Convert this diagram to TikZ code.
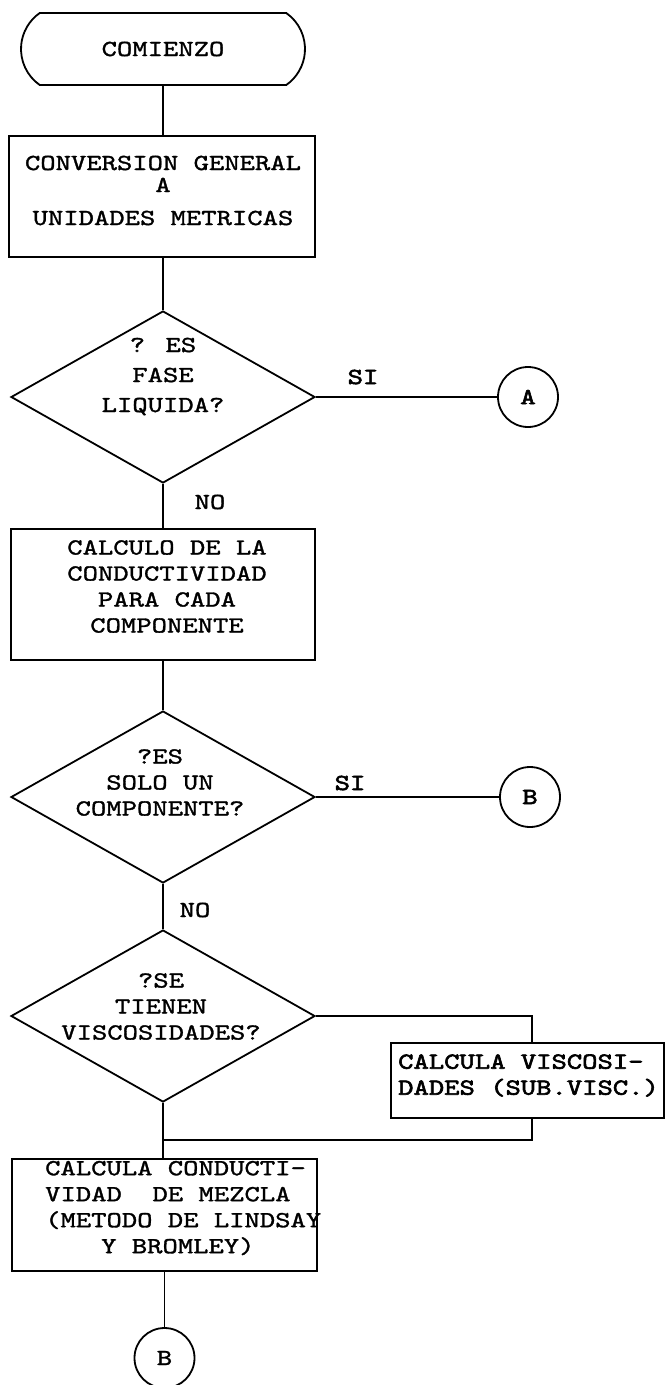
\documentclass[tikz,border=0pt]{standalone}
\usepackage{fontspec}
\newfontfamily\tw[FakeStretch=1.27,FakeBold=1.4]{lmmono10-regular.otf}
\newfontfamily\twb[FakeStretch=1.27,FakeBold=2.6]{lmmono10-regular.otf}
\usetikzlibrary{shapes.geometric,shapes.misc}
\begin{document}
\begin{tikzpicture}[x=1pt,y=-1pt,
  shp/.style={draw, line width=1.8pt, inner sep=0pt, font=\tw\fontsize{23}{26}\selectfont},
  term/.style={shp, rounded rectangle, rounded rectangle arc length=110, minimum width=284pt, minimum height=72pt},
  proc/.style={shp, rectangle},
  decision/.style={shp, diamond, minimum width=304pt, minimum height=172pt},
  conn/.style={shp, circle, minimum size=60pt},
  bconn/.style={conn, font=\twb\fontsize{23}{26}\selectfont},
  txt/.style={font=\tw\fontsize{23}{26}\selectfont, inner sep=0pt, align=center},
  btxt/.style={font=\twb\fontsize{23}{26}\selectfont, inner sep=0pt, align=center},
  flow/.style={line width=1.8pt}]
\useasboundingbox (0,0) rectangle (667,1385);
\fill[white] (0,0) rectangle (667,1385);

% start
\node[term] (start) at (163,49) {COMIENZO};

% conversion box
\node[proc, minimum width=306pt, minimum height=121pt] (conv) at (162,196.5) {};
\node[txt] (convt) at (163,190.5) {CONVERSION GENERAL\\[-4pt]A\\[7pt]UNIDADES METRICAS};

% decision 1
\node[decision] (d1) at (163,397) {};
\node[txt] (d1t) at (163,376.5) {? ES\\[4pt]FASE\\[4pt]LIQUIDA?};
\node[btxt] (si1) at (363,377) {SI};
\node[bconn] (ca) at (528,397) {A};
\node[txt] (no1) at (210,502) {NO};

% calc box
\node[proc, minimum width=304pt, minimum height=131pt] (calc) at (163,594.5) {};
\node[txt] (calct) at (167,586.5) {CALCULO DE LA\\CONDUCTIVIDAD\\PARA CADA\\COMPONENTE};

% decision 2
\node[decision] (d2) at (163,797) {};
\node[txt] (d2t) at (160,782.5) {?ES\\SOLO UN\\COMPONENTE?};
\node[btxt] (si2) at (350,783) {SI};
\node[bconn] (cb) at (530,797) {B};
\node[txt] (no2) at (195,910) {NO};

% decision 3
\node[decision] (d3) at (163,1016) {};
\node[txt] (d3t) at (161,1006.5) {?SE\\TIENEN\\VISCOSIDADES?};

% viscosity box
\node[proc, minimum width=273pt, minimum height=75pt] (visc) at (527.5,1080.5) {};
\node[btxt, align=left, anchor=west] (visct) at (398,1075.5) {CALCULA VISCOSI-\\DADES (SUB.VISC.)};

% mixture box
\node[proc, minimum width=305pt, minimum height=112pt] (mix) at (164.5,1215) {};
\node[txt, align=left, anchor=west] (mixt) at (45,1208) {CALCULA CONDUCTI-\\VIDAD\ \ DE MEZCLA\\(METODO DE LINDSAY\\\hspace*{56pt}Y BROMLEY)};

% end connector
\node[conn] (b2) at (164.5,1358) {B};

% connectors
\coordinate (m) at (163,1140);
\draw[flow] (start) -- (start |- conv.north);
\draw[flow] (conv.south -| start) -- (d1.north);
\draw[flow] (d1.east) -- (ca.west);
\draw[flow] (d1.south) -- (calc.north);
\draw[flow] (calc.south) -- (d2.north);
\draw[flow] (d2.east) -- (cb.west);
\draw[flow] (d2.south) -- (d3.north);
\draw[flow] (d3.east) -| ([xshift=4.5pt]visc.north);
\draw[flow] ([xshift=4.5pt]visc.south) |- (m);
\draw[flow] (d3.south) -- (d3.south |- mix.north);
\draw[flow] (mix.south) -- (b2.north);
\end{tikzpicture}
\end{document}
